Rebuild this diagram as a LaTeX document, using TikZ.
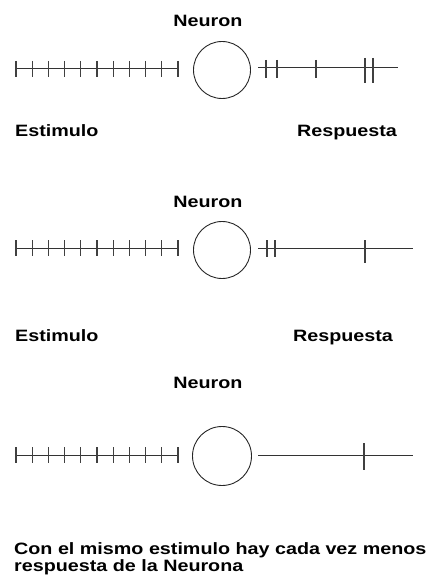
\documentclass[tikz,border=0pt]{standalone}
\usepackage{fontspec}
\setmainfont{Liberation Sans}
\usepackage{tikz}
\usetikzlibrary{positioning}
\newcommand{\wtxt}[1]{\scalebox{1.2}[1]{#1}}
\tikzset{
  lbl/.style={font=\fontsize{16.5}{17}\selectfont\bfseries, inner sep=0pt, align=left},
  soma/.style={draw=black!85, circle, minimum size=57bp, inner sep=0pt, line width=0.9bp},
  train/.style={draw=black!80, line width=1bp},
  spike/.style={draw=black!75, line width=1.1bp}
}
\begin{document}
\begin{tikzpicture}[x=1bp,y=-1bp]
\useasboundingbox (0,0) rectangle (438,575);
% neurons and their labels
\node[soma] (n1) at (222,70) {};
\node[soma] (n2) at (222,250) {};
\node[soma, minimum size=59bp] (n3) at (222,456) {};
\node[lbl, anchor=base] (t1) at (208,27) {\wtxt{Neuron}};
\node[lbl, anchor=base] (t2) at (208,207) {\wtxt{Neuron}};
\node[lbl, anchor=base] (t3) at (208,388) {\wtxt{Neuron}};
% same stimulus every time
\foreach \y in {69,248,455} {
  \draw[train] (16,\y) -- (178,\y);
  \foreach \i in {0,...,10} \draw[spike] ({16+16.2*\i},{\y-8}) -- ++(0,16);
}
% responses
\draw[train] (258,68) -- (398,68);
\foreach \x in {266,277,316} \draw[spike] (\x,60) -- (\x,78);
\foreach \x in {365,373} \draw[spike] (\x,58) -- (\x,83);
\draw[train] (258,248) -- (413,248);
\foreach \x in {267,275} \draw[spike] (\x,240) -- (\x,257);
\draw[spike] (365,240) -- (365,263);
\draw[train] (258,455) -- (413,455);
\draw[spike] (364,443) -- (364,470);
% captions
\node[lbl, anchor=base west] (e1) at (15,137) {\wtxt{Estimulo}};
\node[lbl, anchor=base west] (r1) at (297,137) {\wtxt{Respuesta}};
\node[lbl, anchor=base west] (e2) at (15,341) {\wtxt{Estimulo}};
\node[lbl, anchor=base west] (r2) at (293,341) {\wtxt{Respuesta}};
\node[lbl, anchor=base west] (c1) at (14,554) {\wtxt{Con el mismo estimulo hay cada vez menos}};
\node[lbl, anchor=base west] (c2) at (14,571) {\wtxt{respuesta de la Neurona}};
\end{tikzpicture}
\end{document}
